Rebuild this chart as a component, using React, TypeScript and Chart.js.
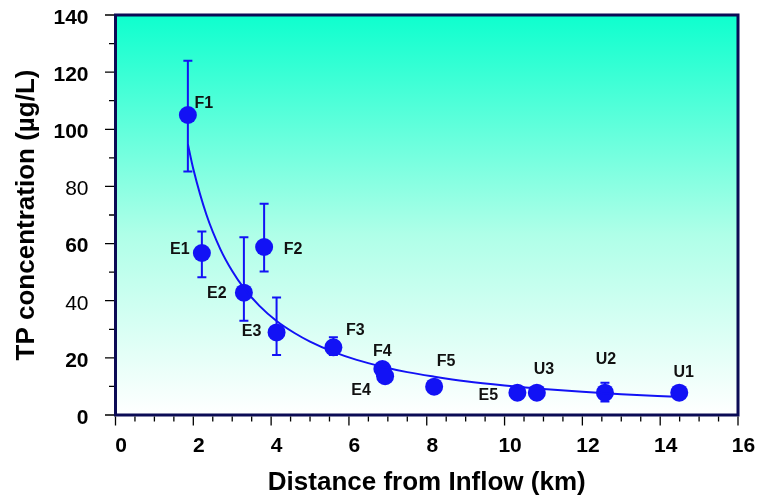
import React, { useEffect, useRef } from "react";
import { Chart, registerables } from "chart.js";

Chart.register(...registerables);

// ---- data ----
const siteLabels = ["F1", "E1", "E2", "F2", "E3", "F3", "F4", "E4", "F5", "E5", "U3", "U2", "U1"];
const distanceKm = [1.86, 2.22, 3.3, 3.82, 4.14, 5.6, 6.86, 6.93, 8.19, 10.33, 10.83, 12.58, 14.49];
const tpConc = [105, 56.7, 42.8, 58.8, 28.9, 23.7, 16.1, 13.6, 9.9, 7.8, 7.8, 7.8, 7.8];
const errHigh: (number | null)[] = [124, 64.2, 62.2, 73.9, 41.1, 27.2, null, null, null, null, null, 11.3, null];
const errLow: (number | null)[] = [85.2, 48.2, 33, 50.2, 21, 21, null, null, null, null, null, 4.7, null];

// fitted curve
const curveX = [1.86, 2.0, 2.34, 2.7, 3.0, 3.3, 3.7, 4.14, 4.6, 5.0, 5.6, 6.2, 6.86, 7.5, 8.2, 9.0, 10.0, 11.0, 12.0, 13.0, 14.4];
const curveY = [94.8, 86.1, 70.0, 57.9, 50.4, 44.4, 38.2, 32.9, 28.7, 25.7, 22.1, 19.3, 16.9, 15.0, 13.4, 11.8, 10.3, 9.1, 8.1, 7.3, 6.4];

const xTickValues = [0, 2, 4, 6, 8, 10, 12, 14, 16];
const yTickValues = [0, 20, 40, 60, 80, 100, 120, 140];
const yRegularWeightTicks = [80, 40];

const xTitle = "Distance from Inflow (km)";
const yTitle = "TP concentration (µg/L)";

// label placement (pixel offsets from point centre) – styling only
const labelOffsets: [number, number][] = [
  [16, -12.5], [-22, -4], [-27, 0], [29, 2], [-25, -2], [22, -18], [0, -18],
  [-24, 13], [12, -26], [-29, 2], [7, -24], [1, -34], [4.5, -21],
];

const FONT = "'Liberation Sans', Arial, Helvetica, sans-serif";
const BLUE = "rgb(18,18,245)";

const decorPlugin = {
  id: "decor",
  beforeDatasetsDraw(chart: any) {
    const { ctx, chartArea: a } = chart;
    ctx.save();
    const g = ctx.createLinearGradient(0, a.top, 0, a.bottom);
    g.addColorStop(0, "rgb(14,255,206)");
    g.addColorStop(0.55, "rgb(175,255,232)");
    g.addColorStop(1, "rgb(255,255,255)");
    ctx.fillStyle = g;
    ctx.fillRect(a.left, a.top, a.right - a.left, a.bottom - a.top);

    // error bars
    const xs = chart.scales.x;
    const ys = chart.scales.y;
    ctx.strokeStyle = BLUE;
    ctx.lineWidth = 2;
    for (let i = 0; i < distanceKm.length; i++) {
      const hi = errHigh[i];
      const lo = errLow[i];
      if (hi == null || lo == null) continue;
      const px = xs.getPixelForValue(distanceKm[i]);
      const py1 = ys.getPixelForValue(hi);
      const py2 = ys.getPixelForValue(lo);
      ctx.beginPath();
      ctx.moveTo(px, py1);
      ctx.lineTo(px, py2);
      ctx.moveTo(px - 4.5, py1);
      ctx.lineTo(px + 4.5, py1);
      ctx.moveTo(px - 4.5, py2);
      ctx.lineTo(px + 4.5, py2);
      ctx.stroke();
    }
    ctx.restore();
  },
  afterDatasetsDraw(chart: any) {
    const { ctx, chartArea: a } = chart;
    const xs = chart.scales.x;
    const ys = chart.scales.y;
    ctx.save();
    // point labels
    ctx.fillStyle = "#111";
    ctx.font = `bold 16px ${FONT}`;
    ctx.textAlign = "center";
    ctx.textBaseline = "middle";
    for (let i = 0; i < siteLabels.length; i++) {
      const px = xs.getPixelForValue(distanceKm[i]);
      const py = ys.getPixelForValue(tpConc[i]);
      const [dx, dy] = labelOffsets[i];
      ctx.fillText(siteLabels[i], px + dx, py + dy + 1);
    }
    // frame
    ctx.strokeStyle = "#0b0b55";
    ctx.lineWidth = 3;
    ctx.strokeRect(a.left, a.top, a.right - a.left, a.bottom - a.top);
    // tick marks
    ctx.strokeStyle = "#000";
    ctx.lineWidth = 1.3;
    ctx.beginPath();
    for (let v = 0; v <= 140.001; v += 10) {
      const y = ys.getPixelForValue(v);
      const len = v % 20 === 0 ? 9 : 5;
      ctx.moveTo(a.left - 1.5 - len, y);
      ctx.lineTo(a.left - 1.5, y);
    }
    for (let v = 0; v <= 16.001; v += 0.5) {
      const x = xs.getPixelForValue(v);
      const len = Math.abs(v % 2) < 1e-6 ? 9 : 5;
      ctx.moveTo(x, a.bottom + 1.5);
      ctx.lineTo(x, a.bottom + 1.5 + len);
    }
    ctx.stroke();
    ctx.restore();
  },
};

export default function App() {
  const ref = useRef<HTMLCanvasElement | null>(null);
  useEffect(() => {
    if (!ref.current) return;
    const chart = new Chart(ref.current, {
      type: "scatter",
      data: {
        datasets: [
          {
            type: "line",
            data: curveX.map((x, i) => ({ x, y: curveY[i] })),
            borderColor: BLUE,
            borderWidth: 2,
            pointRadius: 0,
            cubicInterpolationMode: "monotone",
            fill: false,
          } as any,
          {
            type: "scatter",
            data: distanceKm.map((x, i) => ({ x, y: tpConc[i] })),
            backgroundColor: BLUE,
            borderWidth: 0,
            pointRadius: 9,
          },
        ],
      },
      options: {
        animation: false,
        responsive: false,
        events: [],
        layout: { padding: { top: 15, right: 21, left: 0, bottom: 0 } },
        plugins: { legend: { display: false }, tooltip: { enabled: false } },
        scales: {
          x: {
            type: "linear",
            min: 0,
            max: 16,
            afterBuildTicks: (s: any) => { s.ticks = xTickValues.map((v) => ({ value: v })); },
            afterFit: (s: any) => {
              s.height = 81;
              s.paddingLeft = 0;
              s.paddingRight = 0;
            },
            grid: { display: false },
            border: { display: false },
            ticks: {
              padding: 11,
              labelOffset: 5.5,
              maxRotation: 0,
              autoSkip: false,
              color: "#000",
              font: { family: FONT, size: 21, weight: "bold" },
            },
            title: {
              display: true,
              text: xTitle,
              color: "#000",
              font: { family: FONT, size: 26, weight: "bold" },
              padding: { top: 0, bottom: -2 },
            },
          },
          y: {
            type: "linear",
            min: 0,
            max: 140,
            afterBuildTicks: (s: any) => { s.ticks = yTickValues.map((v) => ({ value: v })); },
            afterFit: (s: any) => {
              s.width = 115.5;
              s.paddingTop = 0;
              s.paddingBottom = 0;
            },
            grid: { display: false },
            border: { display: false },
            ticks: {
              padding: 19,
              labelOffset: 3,
              autoSkip: false,
              color: "#000",
              font: (c: any) => ({
                family: FONT,
                size: 21,
                weight: yRegularWeightTicks.includes(c.tick?.value) ? "normal" : "bold",
              }),
            },
            title: {
              display: true,
              text: yTitle,
              color: "#000",
              font: { family: FONT, size: 26, weight: "bold" },
              padding: { top: 11, bottom: 0 },
            },
          },
        },
      } as any,
      plugins: [decorPlugin],
    });
    return () => chart.destroy();
  }, []);
  return (
    <div style={{ position: "fixed", left: 0, top: 0, width: 759, height: 496, background: "#fff" }}>
      <canvas ref={ref} width={759} height={496} style={{ width: 759, height: 496, display: "block" }} />
    </div>
  );
}
